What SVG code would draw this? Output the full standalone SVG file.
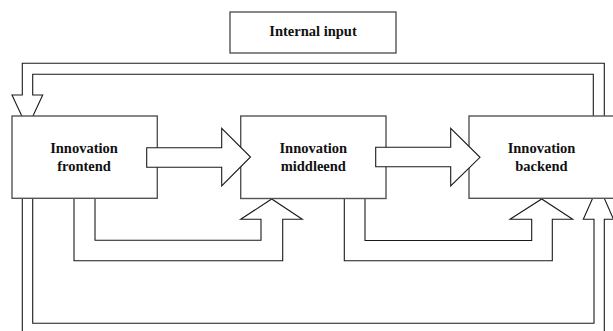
<svg xmlns="http://www.w3.org/2000/svg" width="613" height="331" viewBox="0 0 613 331">
<style>
.bg{fill:#ffffff}
.box{fill:#ffffff;stroke:#555555;stroke-width:1.4}
.conn{fill:none;stroke:#1a1a1a;stroke-width:1.1}
.arr{fill:#ffffff;stroke:#1a1a1a;stroke-width:1.1;stroke-linejoin:miter}
.lbl{font-family:"Liberation Serif","Times New Roman",serif;font-weight:bold;font-size:14.5px;fill:#111111;text-anchor:middle}
</style>
<rect class="bg" x="0" y="0" width="613" height="331"/>
<g id="connectors">
  <path class="arr" d="M604.3,116 V63.3 H22.3 V95 H12 L27.4,128 L42.7,95 H32.7 V74.3 H593.3 V116"/>
  <path class="conn" d="M22.3,198 V340"/>
  <path class="arr" d="M32.7,198 V323.3 H594 V219.3 H583.3 L598.5,185 L613.5,219.3 H604.3 V340"/>
  <path class="arr" d="M74,198 V260.7 H282.7 V219.3 H302.3 L271.7,199 L240.7,219.3 H261 V240.3 H95 V198"/>
  <path class="arr" d="M344.3,198 V260.7 H552.3 V219.3 H572.7 L541.7,199 L510,219.3 H531.7 V240.5 H365 V198"/>
</g>
<g id="internal-input">
  <rect class="box" x="230" y="12" width="166" height="41"/>
  <text class="lbl" x="313" y="35.8">Internal input</text>
</g>
<g id="frontend">
  <rect class="box" x="12" y="116" width="145.3" height="82.3"/>
  <text class="lbl" x="84" y="153.3">Innovation</text>
  <text class="lbl" x="84" y="170.8">frontend</text>
</g>
<g id="middleend">
  <rect class="box" x="240.7" y="116" width="145.3" height="82.5"/>
  <text class="lbl" x="313.3" y="153.3">Innovation</text>
  <text class="lbl" x="313.3" y="170.8">middleend</text>
</g>
<g id="backend">
  <rect class="box" x="469" y="116" width="150" height="82.3"/>
  <text class="lbl" x="541.5" y="153.3">Innovation</text>
  <text class="lbl" x="541.5" y="170.8">backend</text>
</g>
<g id="flow-arrows">
  <path class="arr" d="M146.7,147.7 H221.7 V128.3 L250.5,157 L221.7,186 V167.3 H146.7 Z"/>
  <path class="arr" d="M375.7,147.3 H450.7 V128.3 L480,157.3 L450.7,186 V166.7 H375.7 Z"/>
</g>
</svg>
